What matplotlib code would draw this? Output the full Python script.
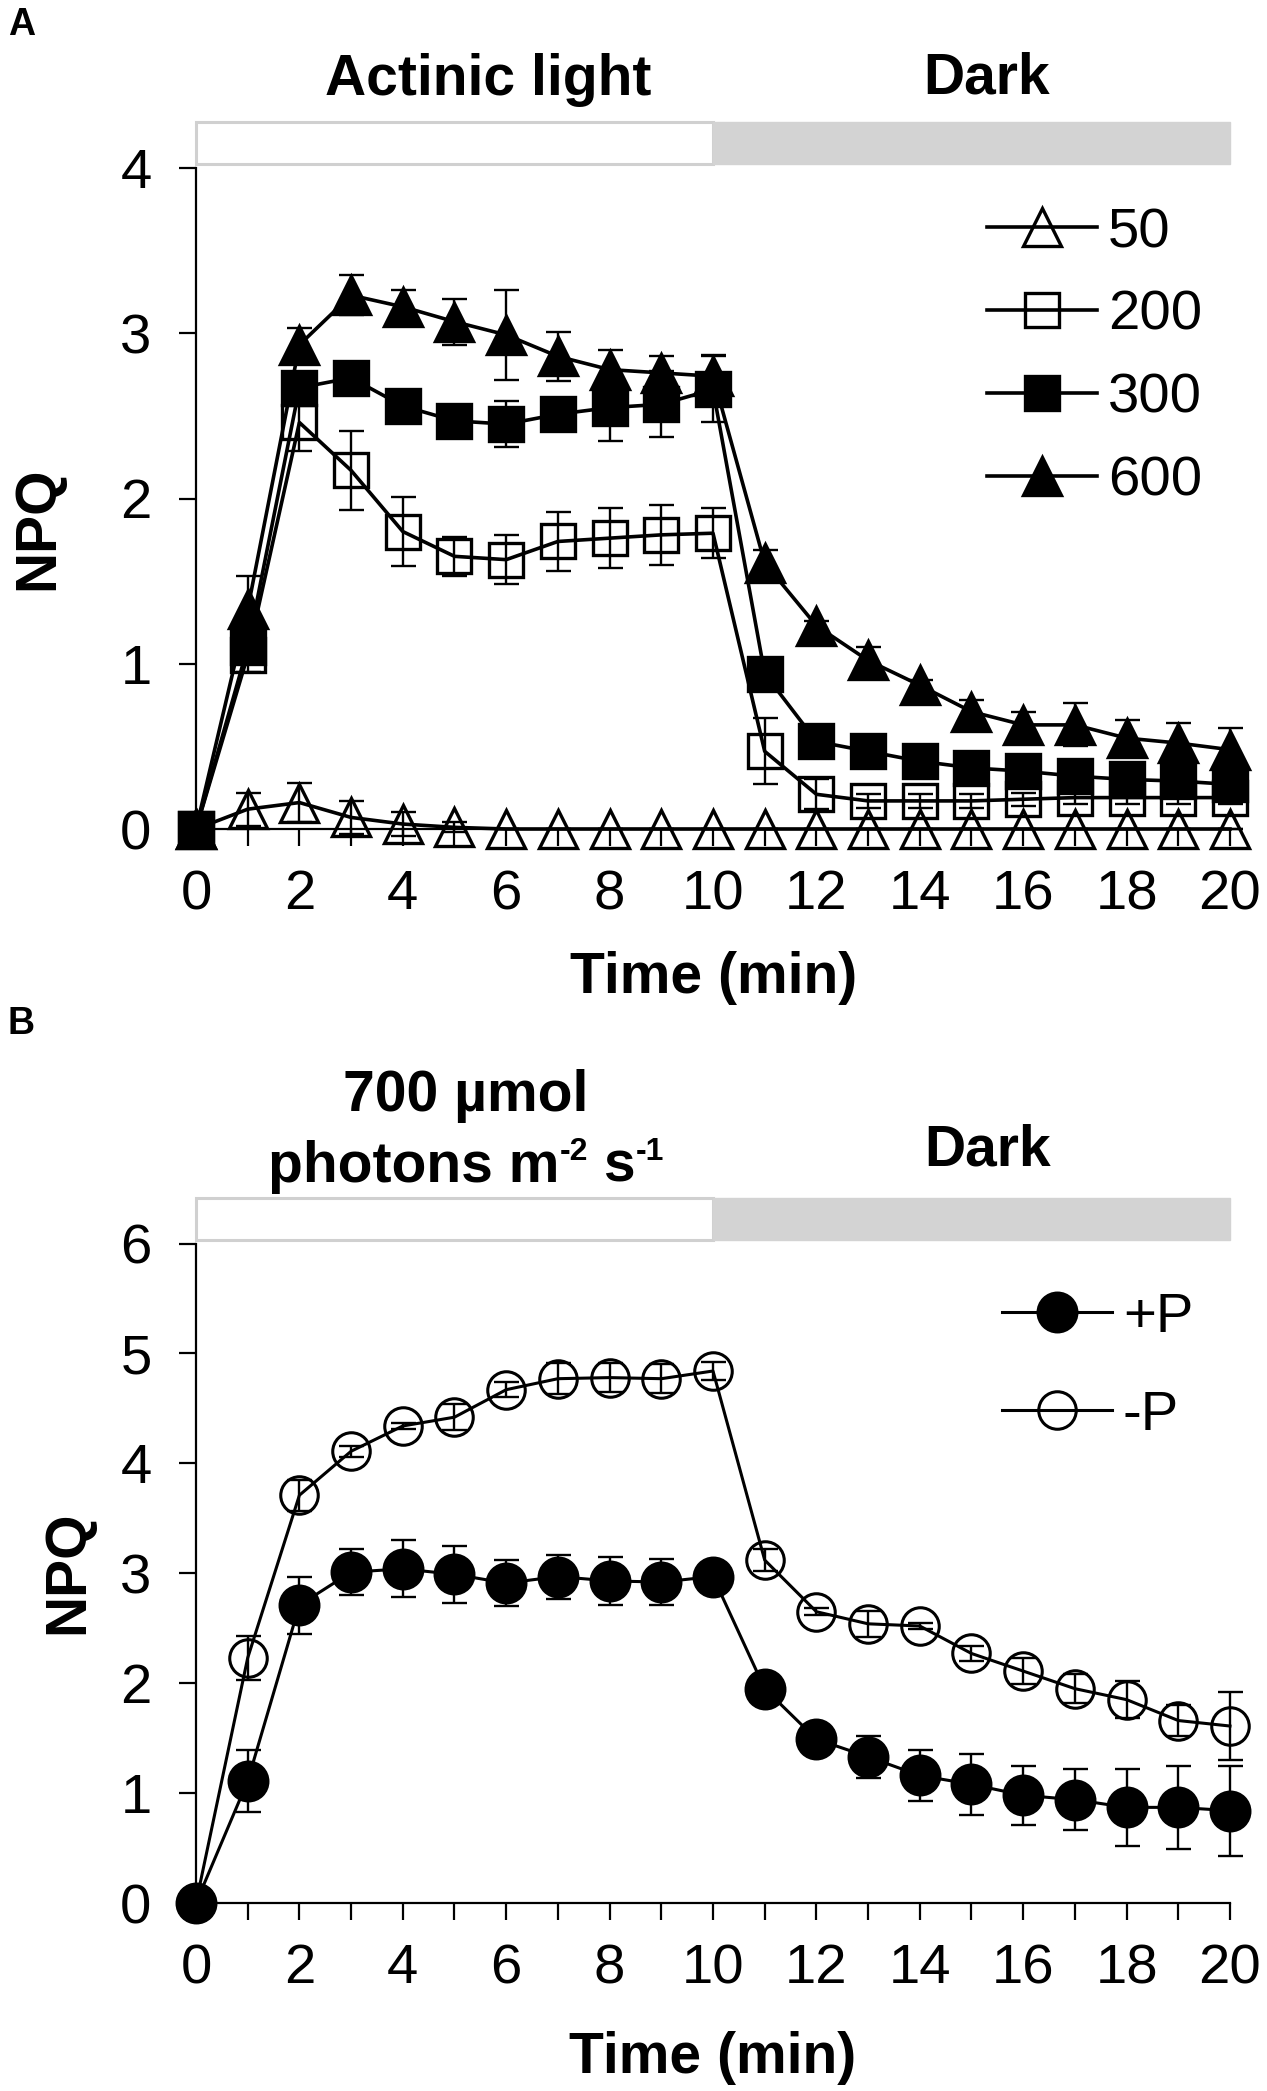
import matplotlib
matplotlib.use("Agg")
import matplotlib.pyplot as plt
from matplotlib.patches import Rectangle
from matplotlib.transforms import blended_transform_factory

plt.rcParams['font.family'] = ['Liberation Sans', 'DejaVu Sans']

# ---------------- data ----------------
time = list(range(0, 21))
xtick_labels = ['0', '', '2', '', '4', '', '6', '', '8', '', '10', '', '12', '', '14', '', '16', '', '18', '', '20']

# Panel A: NPQ at different actinic light intensities
npq_50 = [0, 0.12, 0.16, 0.07, 0.03, 0.01, 0, 0, 0, 0, 0, 0, 0, 0, 0, 0, 0, 0, 0, 0, 0]
err_50 = [0, 0.10, 0.12, 0.10, 0.07, 0.03, 0, 0, 0, 0, 0, 0, 0, 0, 0, 0, 0, 0, 0, 0, 0]
npq_200 = [0, 1.05, 2.46, 2.17, 1.80, 1.65, 1.63, 1.74, 1.76, 1.78, 1.79, 0.47, 0.21, 0.17, 0.17, 0.17, 0.18, 0.19, 0.19, 0.19, 0.19]
err_200 = [0, 0.10, 0.17, 0.24, 0.21, 0.12, 0.15, 0.18, 0.18, 0.18, 0.15, 0.20, 0.09, 0.04, 0.04, 0.04, 0.04, 0.04, 0.04, 0.04, 0.04]
npq_300 = [0, 1.10, 2.67, 2.73, 2.56, 2.47, 2.45, 2.51, 2.55, 2.57, 2.66, 0.94, 0.53, 0.47, 0.41, 0.37, 0.35, 0.32, 0.30, 0.29, 0.27]
err_300 = [0, 0.05, 0.05, 0.05, 0.04, 0.04, 0.14, 0.10, 0.20, 0.20, 0.20, 0.05, 0.04, 0.04, 0.04, 0.05, 0.06, 0.08, 0.06, 0.06, 0.06]
npq_600 = [0, 1.33, 2.93, 3.23, 3.16, 3.07, 2.99, 2.86, 2.78, 2.76, 2.74, 1.61, 1.23, 1.02, 0.87, 0.71, 0.63, 0.63, 0.55, 0.52, 0.48]
err_600 = [0, 0.20, 0.10, 0.12, 0.10, 0.14, 0.27, 0.15, 0.12, 0.10, 0.13, 0.08, 0.03, 0.08, 0.03, 0.07, 0.08, 0.13, 0.11, 0.12, 0.13]
labels_A = ['50', '200', '300', '600']

# Panel B: +P / -P at 700 umol photons
npq_plusP = [0, 1.11, 2.71, 3.01, 3.04, 2.99, 2.91, 2.97, 2.93, 2.92, 2.97, 1.95, 1.49, 1.33, 1.16, 1.08, 0.98, 0.94, 0.87, 0.87, 0.84]
err_plusP = [0, 0.28, 0.26, 0.21, 0.26, 0.26, 0.21, 0.20, 0.22, 0.21, 0.05, 0.05, 0.05, 0.19, 0.23, 0.28, 0.27, 0.28, 0.35, 0.38, 0.41]
npq_minusP = [0, 2.23, 3.71, 4.11, 4.34, 4.42, 4.67, 4.77, 4.78, 4.77, 4.84, 3.12, 2.65, 2.54, 2.52, 2.27, 2.11, 1.95, 1.85, 1.66, 1.61]
err_minusP = [0, 0.20, 0.14, 0.05, 0.03, 0.12, 0.07, 0.14, 0.13, 0.13, 0.08, 0.10, 0.03, 0.12, 0.03, 0.07, 0.12, 0.13, 0.17, 0.14, 0.31]
labels_B = ['+P', '-P']

# ---------------- layout ----------------
W, H = 1267, 2091
def fx(px): return px / W
def fy(py): return 1 - py / H

fig = plt.figure(figsize=(W / 100, H / 100), dpi=100)
axA = fig.add_axes([fx(196), fy(829), (1230 - 196) / W, (829 - 168) / H])
axB = fig.add_axes([fx(196), fy(1903), (1230 - 196) / W, (1903 - 1243.5) / H])

TICK_FS = 40.5
BOLD_FS = 41
EB = dict(fmt='none', ecolor='black', elinewidth=1.7, capsize=9, capthick=1.7, zorder=2, clip_on=False)


def style_axis(ax, ymax):
    ax.set_xlim(0, 20)
    ax.set_ylim(0, ymax)
    for s in ['top', 'right']:
        ax.spines[s].set_visible(False)
    for s in ['left', 'bottom']:
        ax.spines[s].set_linewidth(1.6)
    ax.set_xticks(time)
    ax.set_xticklabels(xtick_labels)
    ax.set_yticks(range(0, ymax + 1))
    ax.tick_params(axis='both', direction='out', length=12, width=1.6, labelsize=TICK_FS)
    ax.tick_params(axis='x', pad=17)
    ax.tick_params(axis='y', pad=20)
    tr = blended_transform_factory(ax.transData, ax.transAxes)
    hfrac = 42 / (ax.get_position().height * H)
    ax.add_patch(Rectangle((0, 1.006), 10, hfrac, transform=tr, facecolor='white',
                           edgecolor='#d0d0d0', lw=2.2, clip_on=False, zorder=1))
    ax.add_patch(Rectangle((10, 1.006), 10, hfrac, transform=tr, facecolor='#d3d3d3',
                           edgecolor='#d3d3d3', lw=1.0, clip_on=False, zorder=1))


# ---------------- Panel A ----------------
style_axis(axA, 4)
seriesA = [
    (npq_50, err_50, '^', 'none', 28),
    (npq_200, err_200, 's', 'none', 24),
    (npq_300, err_300, 's', 'black', 24),
    (npq_600, err_600, '^', 'black', 28),
]
handlesA = []
for (vals, errs, mk, fc, ms), lab in zip(seriesA, labels_A):
    axA.errorbar(time, vals, yerr=errs, **EB)
    h, = axA.plot(time, vals, color='black', lw=2.6, marker=mk, ms=ms, mfc=fc,
                  mec='black', mew=2.4, clip_on=False, zorder=3, label=lab)
    handlesA.append(h)

axA.legend(handles=handlesA, loc='upper left', bbox_to_anchor=(fx(987), fy(207)),
           bbox_transform=fig.transFigure, frameon=False, fontsize=TICK_FS,
           handlelength=1.95, handletextpad=0.2, labelspacing=0.55, borderpad=0,
           borderaxespad=0, numpoints=1)

# ---------------- Panel B ----------------
style_axis(axB, 6)
seriesB = [
    (npq_plusP, err_plusP, 'o', 'black', 28),
    (npq_minusP, err_minusP, 'o', 'none', 27),
]
handlesB = []
for (vals, errs, mk, fc, ms), lab in zip(seriesB, labels_B):
    axB.errorbar(time, vals, yerr=errs, **EB)
    h, = axB.plot(time, vals, color='black', lw=2.2, marker=mk, ms=ms, mfc=fc,
                  mec='black', mew=2.2, clip_on=False, zorder=3, label=lab)
    handlesB.append(h)

axB.legend(handles=handlesB, loc='upper left', bbox_to_anchor=(fx(1002), fy(1292)),
           bbox_transform=fig.transFigure, frameon=False, fontsize=TICK_FS,
           handlelength=1.95, handletextpad=0.2, labelspacing=0.82, borderpad=0,
           borderaxespad=0, numpoints=1)

# ---------------- texts ----------------
def T(x, y, s, size=BOLD_FS, rot=0, weight='bold'):
    fig.text(fx(x), fy(y), s, ha='center', va='center', fontsize=size,
             fontweight=weight, rotation=rot)

T(22, 25, 'A', size=27)
T(488, 80, 'Actinic light')
T(987, 78, 'Dark')
T(38, 528, 'NPQ', rot=90)
T(714, 978, 'Time (min)')

T(21, 1024, 'B', size=27)
T(466, 1096, '700 µmol')
T(988, 1150, 'Dark')
T(68, 1572, 'NPQ', rot=90)
T(713, 2058, 'Time (min)')

# "photons m-2 s-1" with superscripts, built from pieces on a common baseline
pieces = [('photons m', BOLD_FS, 1182), ('-2', 23, 1160), (' s', BOLD_FS, 1182), ('-1', 23, 1160)]
renderer = fig.canvas.get_renderer()
texts = []
for s, size, base in pieces:
    t = fig.text(0, fy(base), s, ha='left', va='baseline', fontsize=size, fontweight='bold')
    texts.append(t)
widths = [t.get_window_extent(renderer=renderer).width for t in texts]
x0 = 466 - sum(widths) / 2
for t, w in zip(texts, widths):
    t.set_x(fx(x0))
    x0 += w

fig.savefig('out.png', dpi=100)
